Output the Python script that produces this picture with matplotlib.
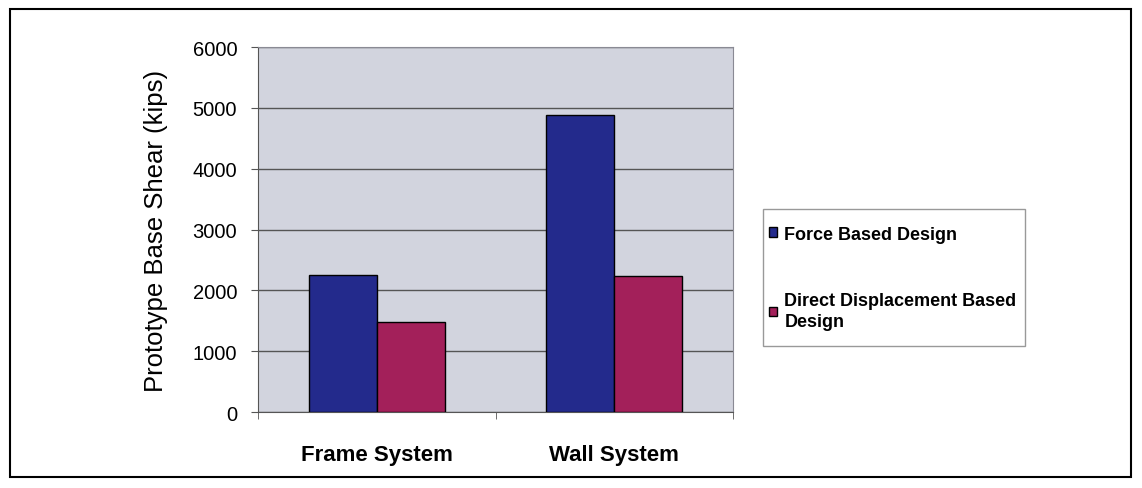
import numpy as np
import matplotlib.pyplot as plt
from matplotlib.patches import Rectangle

plt.rcParams['font.family'] = ['Liberation Sans', 'DejaVu Sans']

# data
systems = ['Frame System', 'Wall System']
force_based = [2250, 4880]
ddbd = [1475, 2235]
series_names = ['Force Based Design', 'Direct Displacement Based\nDesign']
yticks = [0, 1000, 2000, 3000, 4000, 5000, 6000]

blue = '#232a8c'
red = '#a3205a'

fig = plt.figure(figsize=(11.42, 4.89), dpi=100)
ax = fig.add_axes([0.2259, 0.1554, 0.6419 - 0.2259, 0.9018 - 0.1554])
ax.set_facecolor('#d2d4de')

x = np.arange(len(systems))
w = 1 / 3.5
ax.bar(x - w / 2, force_based, w, color=blue, edgecolor='black', linewidth=1, label=series_names[0], zorder=3)
ax.bar(x + w / 2, ddbd, w, color=red, edgecolor='black', linewidth=1, label=series_names[1], zorder=3)

ax.set_xlim(-0.5, 1.5)
ax.set_ylim(0, 6000)
ax.set_yticks(yticks)
ax.set_yticklabels([str(v) for v in yticks], fontsize=14.5)
ax.set_xticks(x)
ax.set_xticklabels(systems, fontsize=16, fontweight='bold')
ax.set_xticks([-0.5, 0.5, 1.5], minor=True)
ax.tick_params(axis='x', which='major', length=0, pad=23)
ax.tick_params(axis='x', which='minor', length=5, color='#555555')
ax.tick_params(axis='y', length=5, color='#555555', pad=10)
ax.grid(axis='y', color='#555555', linewidth=1, zorder=1)

for side in ['top', 'right']:
    ax.spines[side].set_color('#8a8a94')
ax.spines['left'].set_color('#555555')
ax.spines['bottom'].set_color('#555555')

ax.set_ylabel('Prototype Base Shear (kips)', fontsize=18.5, labelpad=18)

# legend box drawn separately, entries placed inside it
fig.patches.append(Rectangle((763 / 1142, 1 - 347 / 489), 262 / 1142, 137 / 489,
                             transform=fig.transFigure, facecolor='white',
                             edgecolor='#999999', linewidth=1))
leg = fig.legend(loc='center left', bbox_to_anchor=(769 / 1142, 1 - 279 / 489),
                 prop={'weight': 'bold', 'size': 13},
                 handlelength=0.45, handleheight=0.45, handletextpad=0.4,
                 labelspacing=2.75, borderpad=0, borderaxespad=0, frameon=False)
for t in leg.get_texts():
    t.set_linespacing(1.3)

fig.patches.append(Rectangle((10 / 1142, 1 - 478 / 489), 1121 / 1142, 468 / 489,
                             transform=fig.transFigure, fill=False,
                             edgecolor='black', linewidth=1.5))

fig.savefig('out.png', dpi=100)
